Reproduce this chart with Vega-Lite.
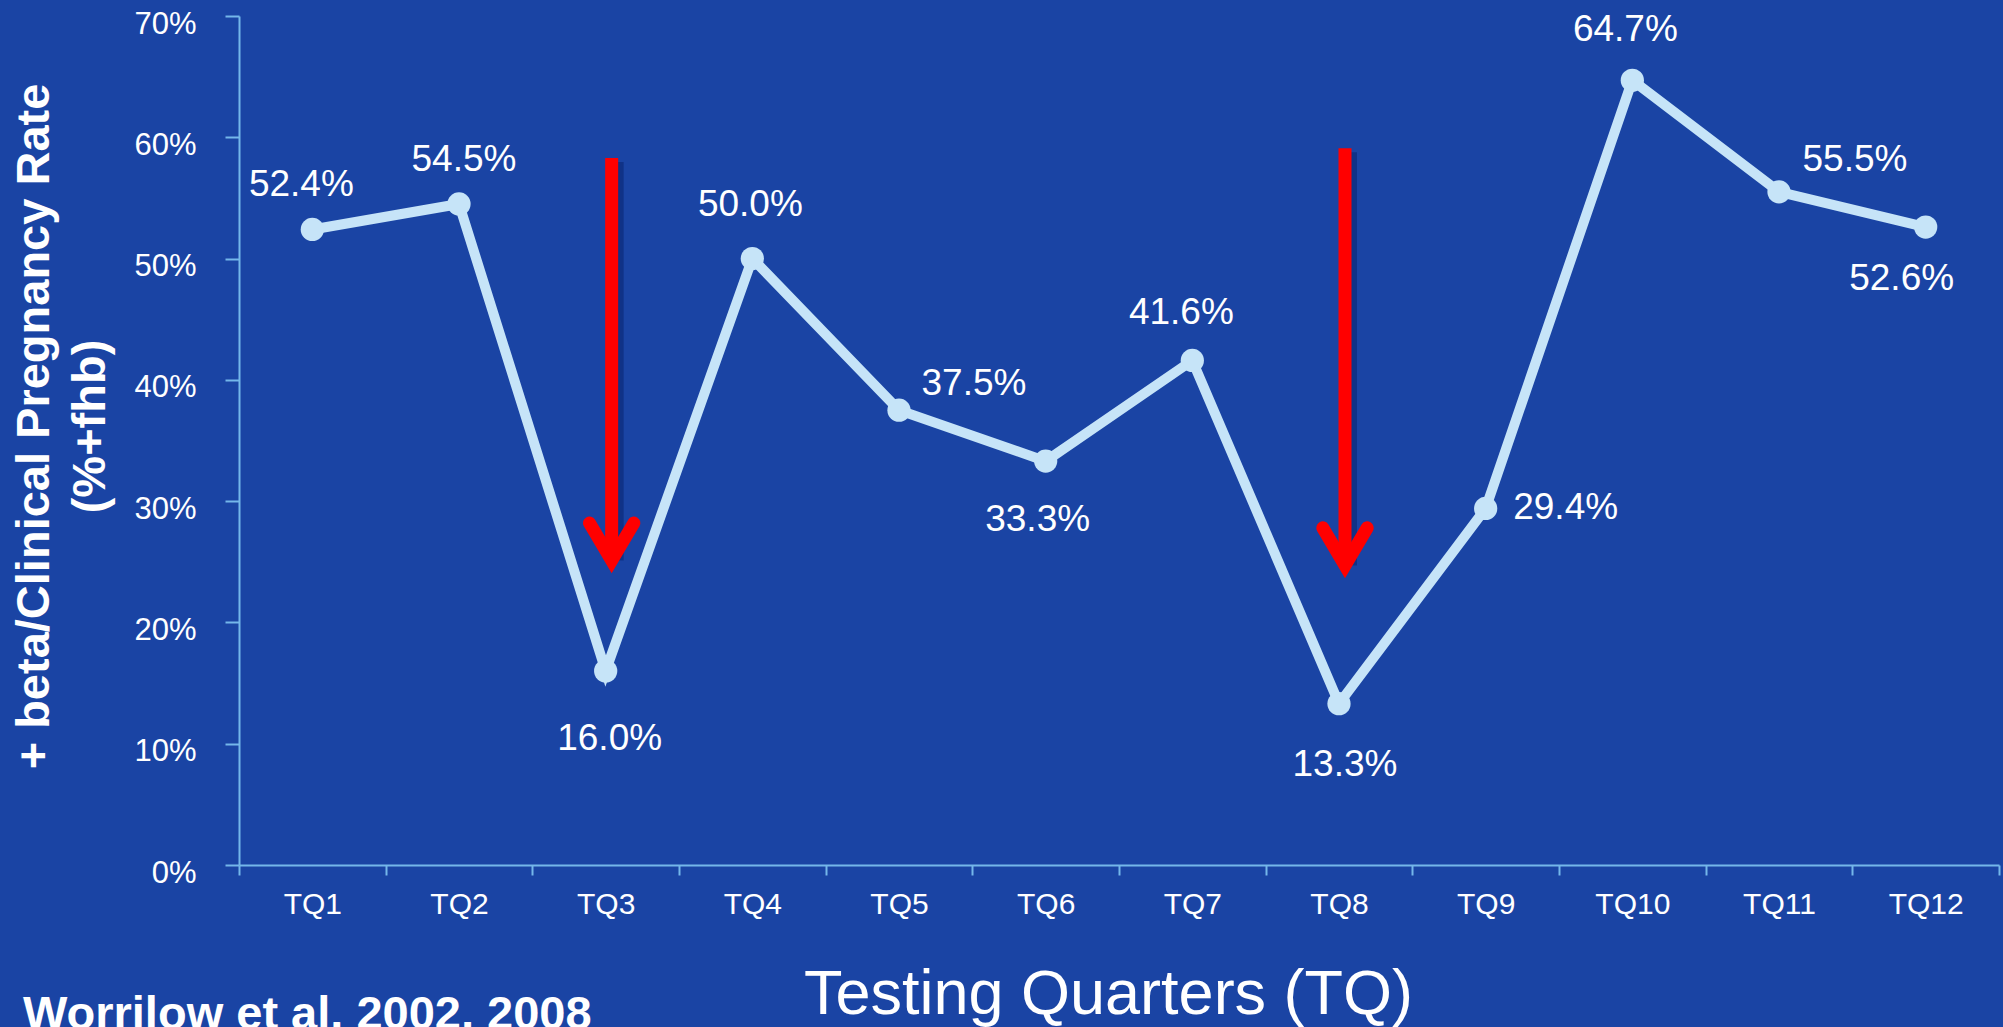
{
  "$schema": "https://vega.github.io/schema/vega-lite/v6.json",
  "width": 1760,
  "height": 849,
  "autosize": {"type": "none"},
  "padding": {"left": 239, "top": 16, "right": 4, "bottom": 162},
  "background": "#1a44a4",
  "config": {"font": "Liberation Sans", "view": {"stroke": null}},
  "title": {
    "text": "Worrilow et al. 2002, 2008",
    "orient": "bottom",
    "anchor": "start",
    "frame": "group",
    "dx": -216,
    "offset": -34,
    "fontSize": 47,
    "fontWeight": "bold",
    "color": "white"
  },
  "datasets": {
    "rates": [
      {"q": "TQ1", "v": 0.524},
      {"q": "TQ2", "v": 0.545},
      {"q": "TQ3", "v": 0.160},
      {"q": "TQ4", "v": 0.500},
      {"q": "TQ5", "v": 0.375},
      {"q": "TQ6", "v": 0.333},
      {"q": "TQ7", "v": 0.416},
      {"q": "TQ8", "v": 0.133},
      {"q": "TQ9", "v": 0.294},
      {"q": "TQ10", "v": 0.647},
      {"q": "TQ11", "v": 0.555},
      {"q": "TQ12", "v": 0.526}
    ],
    "arrows": [
      {"q": "TQ3", "top": 0.583, "tip": 0.251},
      {"q": "TQ8", "top": 0.591, "tip": 0.247}
    ]
  },
  "encoding": {
    "x": {
      "field": "q",
      "type": "nominal",
      "scale": {
        "type": "band",
        "domain": ["TQ1", "TQ2", "TQ3", "TQ4", "TQ5", "TQ6", "TQ7", "TQ8", "TQ9", "TQ10", "TQ11", "TQ12"],
        "paddingInner": 0,
        "paddingOuter": 0
      },
      "axis": {
        "title": "Testing Quarters (TQ)",
        "titleFontSize": 63,
        "titleFontWeight": "normal",
        "titleColor": "white",
        "titlePadding": 44,
        "titleX": 869,
        "labelFontSize": 30,
        "labelColor": "white",
        "labelPadding": 14,
        "labelAngle": 0,
        "tickBand": "extent",
        "tickSize": 10,
        "tickWidth": 2,
        "tickColor": "#74b7ea",
        "domainColor": "#74b7ea",
        "domainWidth": 2,
        "grid": false
      }
    }
  },
  "layer": [
    {
      "data": {"name": "rates"},
      "mark": {"type": "line", "color": "#c6e4f8", "strokeWidth": 10},
      "encoding": {
        "y": {
          "field": "v",
          "type": "quantitative",
          "scale": {"domain": [0, 0.7], "nice": false},
          "axis": {
            "title": ["+ beta/Clinical Pregnancy Rate", "(%+fhb)"],
            "titleFontSize": 47,
            "titleFontWeight": "bold",
            "titleColor": "white",
            "titleLineHeight": 56,
            "titlePadding": 19,
            "titleY": 410,
            "format": ".0%",
            "values": [0, 0.1, 0.2, 0.3, 0.4, 0.5, 0.6, 0.7],
            "labelFontSize": 31,
            "labelColor": "white",
            "labelPadding": 29,
            "labelOffset": 8,
            "tickSize": 14,
            "tickWidth": 2,
            "tickColor": "#74b7ea",
            "domainColor": "#74b7ea",
            "domainWidth": 2,
            "grid": false
          }
        }
      }
    },
    {
      "data": {"name": "rates"},
      "mark": {"type": "circle", "color": "#c6e4f8", "size": 540, "opacity": 1},
      "encoding": {"y": {"field": "v", "type": "quantitative"}}
    },
    {
      "data": {"name": "rates"},
      "transform": [{"filter": {"field": "q", "equal": "TQ1"}}],
      "mark": {"type": "text", "color": "white", "fontSize": 37, "align": "center", "baseline": "middle", "dx": -11, "dy": -44},
      "encoding": {"y": {"field": "v", "type": "quantitative"}, "text": {"field": "v", "type": "quantitative", "format": ".1%"}}
    },
    {
      "data": {"name": "rates"},
      "transform": [{"filter": {"field": "q", "equal": "TQ2"}}],
      "mark": {"type": "text", "color": "white", "fontSize": 37, "align": "center", "baseline": "middle", "dx": 5, "dy": -44},
      "encoding": {"y": {"field": "v", "type": "quantitative"}, "text": {"field": "v", "type": "quantitative", "format": ".1%"}}
    },
    {
      "data": {"name": "rates"},
      "transform": [{"filter": {"field": "q", "equal": "TQ3"}}],
      "mark": {"type": "text", "color": "white", "fontSize": 37, "align": "center", "baseline": "middle", "dx": 4, "dy": 68},
      "encoding": {"y": {"field": "v", "type": "quantitative"}, "text": {"field": "v", "type": "quantitative", "format": ".1%"}}
    },
    {
      "data": {"name": "rates"},
      "transform": [{"filter": {"field": "q", "equal": "TQ4"}}],
      "mark": {"type": "text", "color": "white", "fontSize": 37, "align": "center", "baseline": "middle", "dx": -2, "dy": -54},
      "encoding": {"y": {"field": "v", "type": "quantitative"}, "text": {"field": "v", "type": "quantitative", "format": ".1%"}}
    },
    {
      "data": {"name": "rates"},
      "transform": [{"filter": {"field": "q", "equal": "TQ5"}}],
      "mark": {"type": "text", "color": "white", "fontSize": 37, "align": "center", "baseline": "middle", "dx": 75, "dy": -26},
      "encoding": {"y": {"field": "v", "type": "quantitative"}, "text": {"field": "v", "type": "quantitative", "format": ".1%"}}
    },
    {
      "data": {"name": "rates"},
      "transform": [{"filter": {"field": "q", "equal": "TQ6"}}],
      "mark": {"type": "text", "color": "white", "fontSize": 37, "align": "center", "baseline": "middle", "dx": -8, "dy": 59},
      "encoding": {"y": {"field": "v", "type": "quantitative"}, "text": {"field": "v", "type": "quantitative", "format": ".1%"}}
    },
    {
      "data": {"name": "rates"},
      "transform": [{"filter": {"field": "q", "equal": "TQ7"}}],
      "mark": {"type": "text", "color": "white", "fontSize": 37, "align": "center", "baseline": "middle", "dx": -11, "dy": -47},
      "encoding": {"y": {"field": "v", "type": "quantitative"}, "text": {"field": "v", "type": "quantitative", "format": ".1%"}}
    },
    {
      "data": {"name": "rates"},
      "transform": [{"filter": {"field": "q", "equal": "TQ8"}}],
      "mark": {"type": "text", "color": "white", "fontSize": 37, "align": "center", "baseline": "middle", "dx": 6, "dy": 61},
      "encoding": {"y": {"field": "v", "type": "quantitative"}, "text": {"field": "v", "type": "quantitative", "format": ".1%"}}
    },
    {
      "data": {"name": "rates"},
      "transform": [{"filter": {"field": "q", "equal": "TQ9"}}],
      "mark": {"type": "text", "color": "white", "fontSize": 37, "align": "center", "baseline": "middle", "dx": 80, "dy": 0},
      "encoding": {"y": {"field": "v", "type": "quantitative"}, "text": {"field": "v", "type": "quantitative", "format": ".1%"}}
    },
    {
      "data": {"name": "rates"},
      "transform": [{"filter": {"field": "q", "equal": "TQ10"}}],
      "mark": {"type": "text", "color": "white", "fontSize": 37, "align": "center", "baseline": "middle", "dx": -7, "dy": -50},
      "encoding": {"y": {"field": "v", "type": "quantitative"}, "text": {"field": "v", "type": "quantitative", "format": ".1%"}}
    },
    {
      "data": {"name": "rates"},
      "transform": [{"filter": {"field": "q", "equal": "TQ11"}}],
      "mark": {"type": "text", "color": "white", "fontSize": 37, "align": "center", "baseline": "middle", "dx": 76, "dy": -32},
      "encoding": {"y": {"field": "v", "type": "quantitative"}, "text": {"field": "v", "type": "quantitative", "format": ".1%"}}
    },
    {
      "data": {"name": "rates"},
      "transform": [{"filter": {"field": "q", "equal": "TQ12"}}],
      "mark": {"type": "text", "color": "white", "fontSize": 37, "align": "center", "baseline": "middle", "dx": -24, "dy": 52},
      "encoding": {"y": {"field": "v", "type": "quantitative"}, "text": {"field": "v", "type": "quantitative", "format": ".1%"}}
    },
    {
      "data": {"name": "arrows"},
      "mark": {"type": "rule", "color": "#0a2470", "opacity": 0.55, "strokeWidth": 10, "xOffset": 13, "yOffset": 4},
      "encoding": {"y": {"field": "top", "type": "quantitative"}, "y2": {"field": "tip"}}
    },
    {
      "data": {"name": "arrows"},
      "mark": {"type": "rule", "color": "#ff0000", "strokeWidth": 13, "xOffset": 6},
      "encoding": {"y": {"field": "top", "type": "quantitative"}, "y2": {"field": "tip"}}
    },
    {
      "data": {"name": "arrows"},
      "mark": {
        "type": "point",
        "shape": "M-0.555,-0.94L0,0L0.555,-0.94",
        "size": 6400,
        "filled": false,
        "color": "#ff0000",
        "opacity": 1,
        "strokeWidth": 13,
        "strokeCap": "round",
        "strokeJoin": "miter",
        "xOffset": 6
      },
      "encoding": {"y": {"field": "tip", "type": "quantitative"}}
    }
  ]
}
